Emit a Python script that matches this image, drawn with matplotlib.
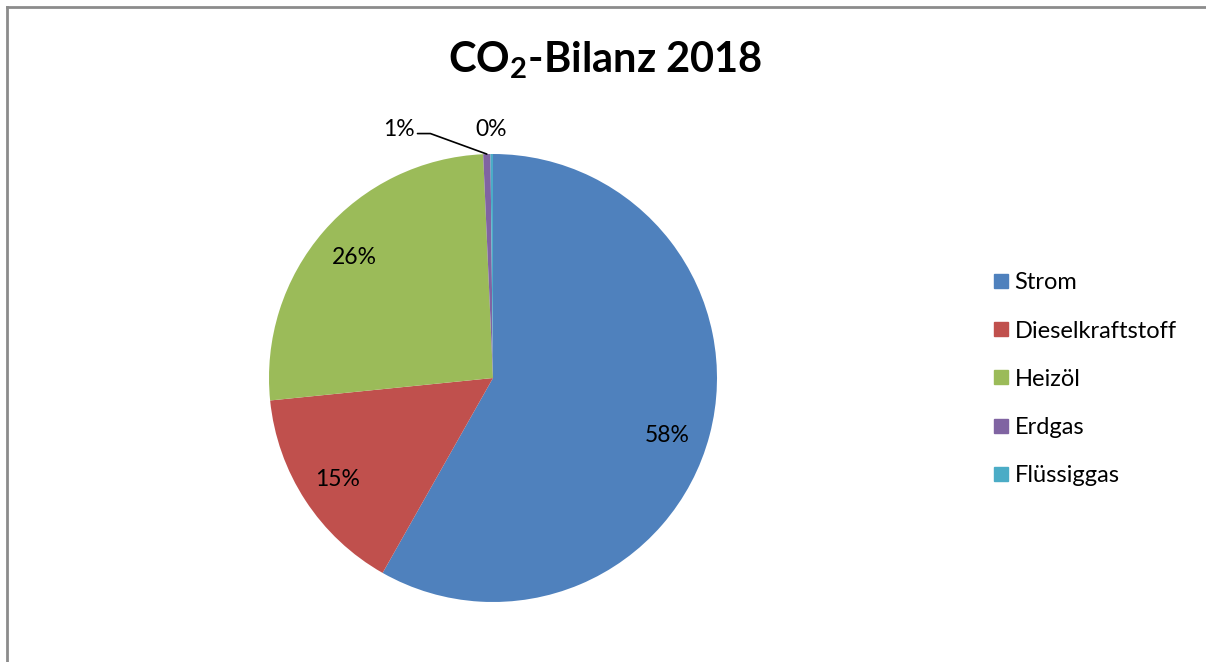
import matplotlib
matplotlib.use("Agg")
import matplotlib.pyplot as plt
from matplotlib.lines import Line2D
import numpy as np

# data
labels = ["Strom", "Dieselkraftstoff", "Heizöl", "Erdgas", "Flüssiggas"]
shares = [58.2, 15.2, 25.9, 0.52, 0.18]
colors = ["#4F81BD", "#C0504D", "#9BBB59", "#8064A2", "#4BACC6"]

plt.rcParams["font.family"] = ["Lato", "DejaVu Sans"]
plt.rcParams["mathtext.fontset"] = "custom"
plt.rcParams["mathtext.bf"] = "Lato:bold"
plt.rcParams["mathtext.rm"] = "Lato"

W, H = 1206, 662
fig = plt.figure(figsize=(W / 100, H / 100), dpi=100)

# pie axes: centre (493, 378), radius ~224 px
cx, cy, r = 493, 378, 224
ax = fig.add_axes([(cx - r) / W, 1 - (cy + r) / H, 2 * r / W, 2 * r / H])
total = sum(shares)
wedges, _ = ax.pie(shares, colors=colors, startangle=90, counterclock=False,
                   wedgeprops=dict(linewidth=0), radius=1.0)
ax.set_xlim(-1, 1)
ax.set_ylim(-1, 1)
ax.set_aspect("equal")

pcts = [int(v / total * 100 + 0.5) for v in shares]
# percentage labels inside the big slices
start = 90.0
mids = []
for v in shares:
    sweep = v / total * 360
    mids.append(start - sweep / 2)
    start -= sweep
inside_r = [0.82, 0.83, 0.82]
inside_off = [-3.6, 0, 0]
for i in range(3):
    a = np.deg2rad(mids[i] + inside_off[i])
    ax.text(inside_r[i] * np.cos(a), inside_r[i] * np.sin(a), f"{pcts[i]}%",
            ha="center", va="center", fontsize=16.5, color="black")

# small slices: labels outside
a3 = np.deg2rad(mids[3])
ax.annotate(f"{pcts[3]}%", xy=(np.cos(a3), np.sin(a3)), xytext=(-0.42, 1.11),
            ha="center", va="center", fontsize=16.5, annotation_clip=False,
            arrowprops=dict(arrowstyle="-", color="black", lw=1.2,
                            shrinkA=0, shrinkB=0,
                            connectionstyle="angle,angleA=0,angleB=-20,rad=0",
                            relpos=(1.0, 0.3)))
ax.text(-0.01, 1.11, f"{pcts[4]}%", ha="center", va="center", fontsize=16.5)

# title
fig.text(605 / W, 1 - 60 / H, r"CO$_{\mathbf{2}}$-Bilanz 2018", ha="center", va="center",
         fontsize=30, fontweight="bold")

# legend
handles = [Line2D([0], [0], marker="s", linestyle="none", markersize=10.5,
                  markerfacecolor=c, markeredgecolor=c) for c in colors]
fig.legend(handles, labels, loc="upper left", bbox_to_anchor=(983 / W, 1 - 263 / H),
           frameon=False, fontsize=17, labelspacing=1.15, handlelength=0.75,
           handletextpad=0.18, borderaxespad=0)

# outer frame (top and left edges only)
fig.add_artist(Line2D([7 / W, 7 / W], [0, 1 - 7 / H], transform=fig.transFigure,
                      color="#8c8c8c", lw=2))
fig.add_artist(Line2D([7 / W, 1], [1 - 7 / H, 1 - 7 / H], transform=fig.transFigure,
                      color="#8c8c8c", lw=2))

fig.savefig("out.png", dpi=100)
